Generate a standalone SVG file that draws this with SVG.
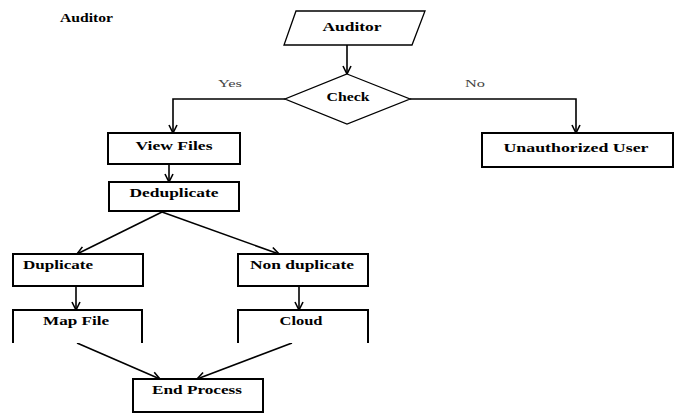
<svg xmlns="http://www.w3.org/2000/svg" width="683" height="414" viewBox="0 0 683 414">
<style>
.t{font-family:"Liberation Serif","Times New Roman",serif;font-weight:bold;font-size:12px;fill:#000;text-anchor:middle}
.l{font-family:"Liberation Serif","Times New Roman",serif;font-size:10px;fill:#444;text-anchor:middle}
.box{fill:#fff;stroke:#000;stroke-width:2}
.shape{fill:#fff;stroke:#000;stroke-width:1.3}
.c{fill:none;stroke:#000;stroke-width:1.6}
</style>
<defs>
<marker id="arr" viewBox="0 0 10 10" refX="9" refY="5" markerWidth="10" markerHeight="10" markerUnits="userSpaceOnUse" orient="auto">
<path d="M1,1 L9,5 L1,9" fill="none" stroke="#000" stroke-width="1.6"/>
</marker>
</defs>
<text class="t" x="86.5" y="22" textLength="53" lengthAdjust="spacingAndGlyphs">Auditor</text>
<g id="connectors">
<path class="c" d="M347,45 V74" marker-end="url(#arr)"/>
<path class="c" d="M285,99 H173 V133" marker-end="url(#arr)"/>
<path class="c" d="M410,99 H576 V133" marker-end="url(#arr)"/>
<path class="c" d="M169,164 V182" marker-end="url(#arr)"/>
<path class="c" d="M162,212 L77,254" marker-end="url(#arr)"/>
<path class="c" d="M162,212 L279,254" marker-end="url(#arr)"/>
<path class="c" d="M76,286 V310" marker-end="url(#arr)"/>
<path class="c" d="M299,286 V310" marker-end="url(#arr)"/>
<path class="c" d="M77,343 L160,379" marker-end="url(#arr)"/>
<path class="c" d="M292,343 L197,379" marker-end="url(#arr)"/>
<text class="l" x="230" y="87" textLength="24" lengthAdjust="spacingAndGlyphs">Yes</text>
<text class="l" x="475" y="87" textLength="20" lengthAdjust="spacingAndGlyphs">No</text>
</g>
<g id="auditor">
<polygon class="shape" points="296,11 425,11 412,45 284,45"/>
<text class="t" x="352" y="31" textLength="59" lengthAdjust="spacingAndGlyphs">Auditor</text>
</g>
<g id="check">
<polygon class="shape" points="347,74 410,99 347,124 285,99"/>
<text class="t" x="348" y="101" textLength="43" lengthAdjust="spacingAndGlyphs">Check</text>
</g>
<g id="viewfiles">
<rect class="box" x="108" y="133" width="132" height="31"/>
<text class="t" x="174" y="150" textLength="77" lengthAdjust="spacingAndGlyphs">View Files</text>
</g>
<g id="unauthorized">
<rect class="box" x="482" y="133" width="191" height="34"/>
<text class="t" x="576" y="152" textLength="145" lengthAdjust="spacingAndGlyphs">Unauthorized User</text>
</g>
<g id="deduplicate">
<rect class="box" x="109" y="182" width="130" height="29"/>
<text class="t" x="174" y="197" textLength="89" lengthAdjust="spacingAndGlyphs">Deduplicate</text>
</g>
<g id="duplicate">
<rect class="box" x="13" y="254" width="130" height="32"/>
<text class="t" x="58" y="269" textLength="70" lengthAdjust="spacingAndGlyphs">Duplicate</text>
</g>
<g id="nonduplicate">
<rect class="box" x="238" y="254" width="130" height="32"/>
<text class="t" x="302" y="269" textLength="104" lengthAdjust="spacingAndGlyphs">Non duplicate</text>
</g>
<g id="mapfile">
<path class="box" d="M13,343 V310 H142 V343"/>
<text class="t" x="76" y="325" textLength="66" lengthAdjust="spacingAndGlyphs">Map File</text>
</g>
<g id="cloud">
<path class="box" d="M238,343 V310 H368 V343"/>
<text class="t" x="301" y="325" textLength="43" lengthAdjust="spacingAndGlyphs">Cloud</text>
</g>
<g id="endprocess">
<rect class="box" x="133" y="379" width="130" height="33"/>
<text class="t" x="197" y="394" textLength="90" lengthAdjust="spacingAndGlyphs">End Process</text>
</g>
</svg>
